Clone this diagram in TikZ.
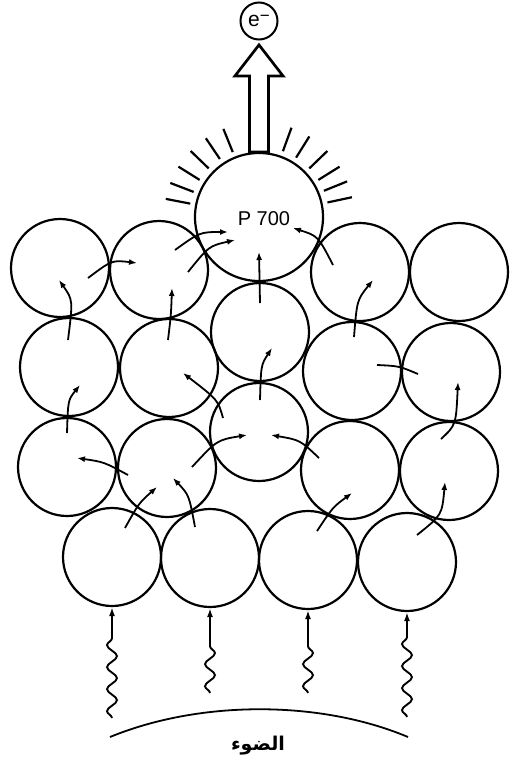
\documentclass[tikz,border=0pt]{standalone}
\usepackage{fontspec}
\setmainfont{Liberation Sans}
\newfontfamily\arabicfont[Script=Arabic]{DejaVu Sans}
\TeXXeTstate=1
\usetikzlibrary{arrows.meta, decorations.pathmorphing}

\tikzset{
  pigment/.style={draw, circle, line width=2.2pt, minimum size=98pt, inner sep=0pt},
  transfer/.style={line width=1.8pt, -{Latex[length=8pt,width=6pt]}},
  ray/.style={line width=2.2pt},
  photon/.style={line width=1.9pt, -{Latex[length=9pt,width=6pt]},
    decoration={snake, amplitude=5pt, segment length=22pt}},
}

\begin{document}
\begin{tikzpicture}[x=1pt, y=-1pt]
    \useasboundingbox (0,0) rectangle (512,761);

    % Reaction centre and electron
    \node[draw, circle, line width=2.2pt, minimum size=128pt, inner sep=0pt] (p700) at (259,217) {};
    \node at (264,219) {\fontsize{20}{22}\selectfont P 700};
    \node[draw, circle, line width=2pt, minimum size=37pt, inner sep=0pt] (e) at (259,21)
        {\fontsize{21}{22}\selectfont e\raisebox{5pt}{\fontsize{17}{18}\selectfont −}};

    % Antenna pigments
    \node[pigment] (t1) at (60,268) {};
    \node[pigment] (t2) at (159,270) {};
    \node[pigment] (t4) at (360,272) {};
    \node[pigment] (t5) at (459,272) {};
    \node[pigment] (m1) at (69,367) {};
    \node[pigment] (m2) at (169,368) {};
    \node[pigment] (m3) at (260,332) {};
    \node[pigment] (m4) at (352,371) {};
    \node[pigment] (m5) at (451,372) {};
    \node[pigment] (l1) at (67,467) {};
    \node[pigment] (l2) at (167,468) {};
    \node[pigment] (l3) at (259,432) {};
    \node[pigment] (l4) at (350,470) {};
    \node[pigment] (l5) at (449,471) {};
    \node[pigment] (b1) at (112,557) {};
    \node[pigment] (b2) at (210,558) {};
    \node[pigment] (b3) at (308,560) {};
    \node[pigment] (b4) at (407,562) {};

    % Electron leaving P700
    \draw[line width=2.7pt, line join=miter] (p700.north) ++(-9.5,0) -- ++(0,-76) -- ++(-14.5,0)
        -- ++(24,-31) -- ++(24,31) -- ++(-14.5,0) -- ++(0,76) -- cycle;

    % Excitation rays
    \foreach \a in {12,22,32,44,58,70,112,124,136,148,159,169}
        \draw[ray] (p700.center) ++(-\a:70) -- ++(-\a:25);

    % Energy transfer
    \draw[transfer] (68,340) .. controls (73,300) .. (59,280);
    \draw[transfer] (88,278) .. controls (112,260) .. (137,263);
    \draw[transfer] (168,340) .. controls (171,315) .. (172,288);
    \draw[transfer] (175,250) .. controls (200,232) .. (228,232);
    \draw[transfer] (188,272) .. controls (209,246) .. (235,240);
    \draw[transfer] (260,303) -- (259,252);
    \draw[transfer] (333,265) .. controls (318,236) .. (293,228);
    \draw[transfer] (354,337) .. controls (357,300) .. (373,280);
    \draw[line width=1.8pt] (377,365) .. controls (399,366) .. (418,374);
    \draw[transfer] (67,433) .. controls (68,400) .. (80,385);
    \draw[transfer] (223,418) .. controls (218,400) .. (183,373);
    \draw[transfer] (260,400) .. controls (261,365) .. (272,348);
    \draw[transfer] (441,439) .. controls (456,425) .. (458,382);
    \draw[transfer] (128,475) .. controls (104,462) .. (77,458);
    \draw[transfer] (192,467) .. controls (217,440) .. (247,435);
    \draw[transfer] (319,458) .. controls (300,440) .. (271,435);
    \draw[transfer] (125,528) .. controls (139,503) .. (157,487);
    \draw[transfer] (195,527) .. controls (189,495) .. (173,478);
    \draw[transfer] (317,531) .. controls (333,507) .. (352,493);
    \draw[transfer] (417,535) .. controls (442,515) .. (445,482);

    % Incoming light
    \coordinate (w1) at (112,718);
    \coordinate (w2) at (210,693);
    \coordinate (w3) at (308,693);
    \coordinate (w4) at (407,717);
    \draw[photon] (w1) decorate{-- ++(0,-81)} -- (b1.south);
    \draw[photon] (w2) decorate{-- ++(0,-56)} -- (b2.south);
    \draw[photon] (w3) decorate{-- ++(0,-56)} -- (b3.south);
    \draw[photon] (w4) decorate{-- ++(0,-80)} -- (b4.south);

    \draw[line width=1.8pt] (110,737) .. controls (200,700) and (320,700) .. (408,737);
    \node (light) at (258,746) {\arabicfont\bfseries\fontsize{19}{22}\selectfont\beginR الضوء\endR};
\end{tikzpicture}
\end{document}
